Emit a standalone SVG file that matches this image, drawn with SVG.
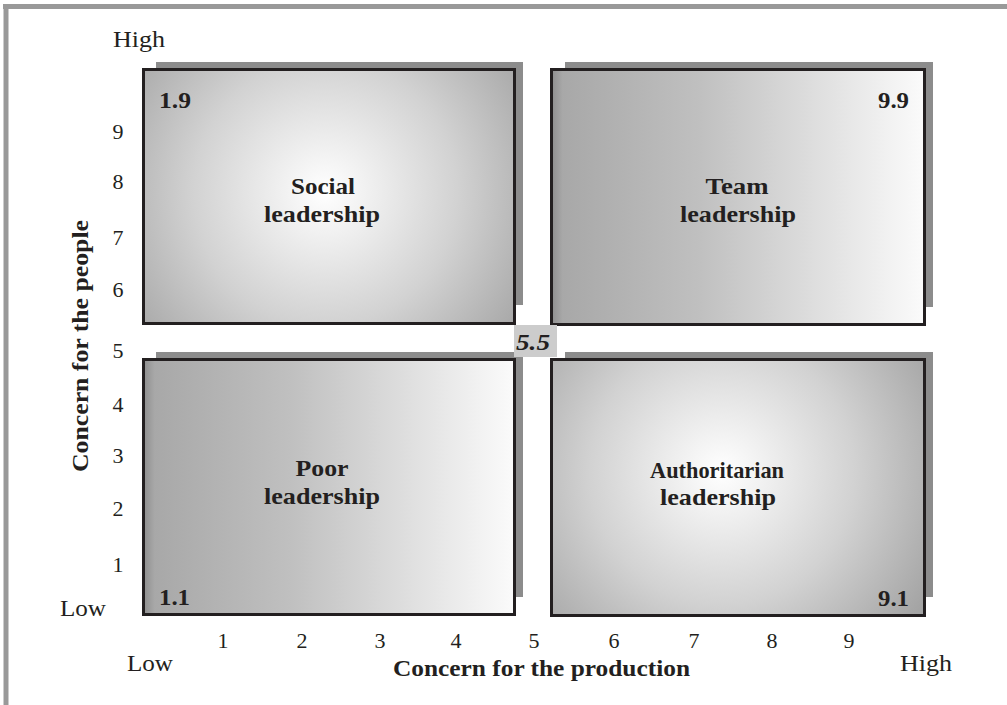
<svg xmlns="http://www.w3.org/2000/svg" width="1007" height="705" viewBox="0 0 1007 705">
<style>
text{font-family:'Liberation Serif','Times New Roman',serif;fill:#231f20}
.ax{font-size:22px}
.lab{font-size:23px}
.b{font-size:24px;font-weight:bold}
.box{stroke:#231f20;stroke-width:3}
.sh{fill:#8c8c8c}
.mid{text-anchor:middle}
</style>
<defs>
<radialGradient id="rTL" gradientUnits="userSpaceOnUse" cx="325" cy="192" r="240">
<stop offset="0" stop-color="#ffffff"/>
<stop offset="0.55" stop-color="#d2d2d2"/>
<stop offset="1" stop-color="#a4a4a4"/>
</radialGradient>
<radialGradient id="rBR" gradientUnits="userSpaceOnUse" cx="722" cy="472" r="240">
<stop offset="0" stop-color="#ffffff"/>
<stop offset="0.55" stop-color="#d2d2d2"/>
<stop offset="1" stop-color="#a4a4a4"/>
</radialGradient>
<linearGradient id="lin" x1="0" y1="0" x2="1" y2="0">
<stop offset="0" stop-color="#8e8e8e"/>
<stop offset="0.03" stop-color="#a8a8a8"/>
<stop offset="0.4" stop-color="#c0c0c0"/>
<stop offset="1" stop-color="#fbfbfb"/>
</linearGradient>
</defs>
<g id="frame">
<line x1="3" y1="6.5" x2="1007" y2="6.5" stroke="#999" stroke-width="5"/>
<line x1="6" y1="4" x2="6" y2="705" stroke="#999" stroke-width="5"/>
</g>
<g id="axes">
<text class="lab" x="113" y="47" textLength="52" lengthAdjust="spacingAndGlyphs">High</text>
<text class="ax mid" x="118" y="139">9</text>
<text class="ax mid" x="118" y="189">8</text>
<text class="ax mid" x="118" y="245">7</text>
<text class="ax mid" x="118" y="297">6</text>
<text class="ax mid" x="118" y="358">5</text>
<text class="ax mid" x="118" y="412">4</text>
<text class="ax mid" x="118" y="463">3</text>
<text class="ax mid" x="118" y="516">2</text>
<text class="ax mid" x="118" y="572">1</text>
<text class="lab" x="60" y="616" textLength="46" lengthAdjust="spacingAndGlyphs">Low</text>
<text class="ax mid" x="223" y="648">1</text>
<text class="ax mid" x="302" y="648">2</text>
<text class="ax mid" x="380" y="648">3</text>
<text class="ax mid" x="456" y="648">4</text>
<text class="ax mid" x="534" y="648">5</text>
<text class="ax mid" x="614" y="648">6</text>
<text class="ax mid" x="694" y="648">7</text>
<text class="ax mid" x="772" y="648">8</text>
<text class="ax mid" x="849" y="648">9</text>
<text class="lab" x="127" y="671" textLength="46" lengthAdjust="spacingAndGlyphs">Low</text>
<text class="lab" x="900" y="671" textLength="52" lengthAdjust="spacingAndGlyphs">High</text>
<text class="b" x="393" y="676" textLength="297" lengthAdjust="spacingAndGlyphs">Concern for the production</text>
<text class="b" transform="translate(88,472) rotate(-90)" x="0" y="0" textLength="252" lengthAdjust="spacingAndGlyphs">Concern for the people</text>
</g>
<g id="social">
<rect class="sh" x="156" y="62" width="367" height="243"/>
<rect class="box" x="143.5" y="69.5" width="371" height="254" fill="url(#rTL)"/>
<text class="b" x="159" y="108" textLength="32" lengthAdjust="spacingAndGlyphs">1.9</text>
<text class="b mid" x="323" y="194" textLength="64" lengthAdjust="spacingAndGlyphs">Social</text>
<text class="b mid" x="322" y="222" textLength="116" lengthAdjust="spacingAndGlyphs">leadership</text>
</g>
<g id="team">
<rect class="sh" x="565" y="62" width="368" height="245"/>
<rect class="box" x="551.5" y="69.5" width="373" height="255" fill="url(#lin)"/>
<text class="b" x="878" y="108" textLength="31" lengthAdjust="spacingAndGlyphs">9.9</text>
<text class="b mid" x="737" y="194" textLength="63" lengthAdjust="spacingAndGlyphs">Team</text>
<text class="b mid" x="738" y="222" textLength="116" lengthAdjust="spacingAndGlyphs">leadership</text>
</g>
<g id="poor">
<rect class="sh" x="156" y="352" width="367" height="245"/>
<rect class="box" x="143.5" y="359.5" width="371" height="255" fill="url(#lin)"/>
<text class="b" x="159" y="605" textLength="31" lengthAdjust="spacingAndGlyphs">1.1</text>
<text class="b mid" x="322" y="476" textLength="53" lengthAdjust="spacingAndGlyphs">Poor</text>
<text class="b mid" x="322" y="504" textLength="116" lengthAdjust="spacingAndGlyphs">leadership</text>
</g>
<g id="authoritarian">
<rect class="sh" x="565" y="352" width="368" height="245"/>
<rect class="box" x="551.5" y="359.5" width="373" height="256" fill="url(#rBR)"/>
<text class="b" x="878" y="606" textLength="31" lengthAdjust="spacingAndGlyphs">9.1</text>
<text class="b mid" x="717" y="478" textLength="134" lengthAdjust="spacingAndGlyphs">Authoritarian</text>
<text class="b mid" x="718" y="505" textLength="116" lengthAdjust="spacingAndGlyphs">leadership</text>
</g>
<g id="center">
<rect x="514" y="325" width="43" height="32" fill="#cccccc"/>
<text class="b" x="516" y="350" font-style="italic" textLength="34" lengthAdjust="spacingAndGlyphs">5.5</text>
</g>
<g id="connectors"/>
</svg>
